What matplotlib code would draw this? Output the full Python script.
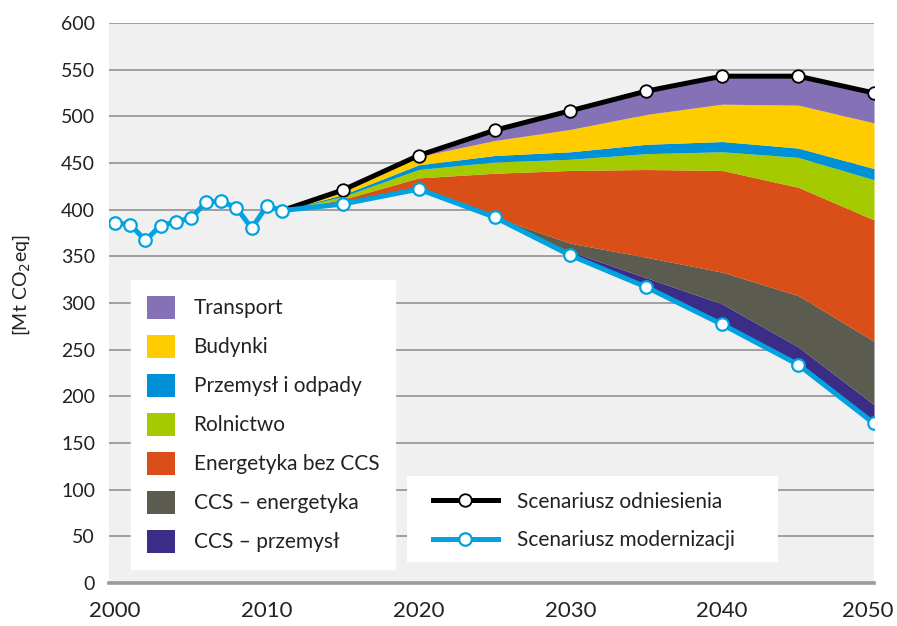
"""Emisje GHG - scenariusz odniesienia vs modernizacji"""

import matplotlib
matplotlib.use("Agg")
import matplotlib.pyplot as plt
import matplotlib.transforms as mtransforms
from matplotlib.patches import Patch, Rectangle
from matplotlib.lines import Line2D

plt.rcParams['font.family'] = ['Lato', 'DejaVu Sans']

# historia + scenariusz modernizacji
hist_years = [2000, 2001, 2002, 2003, 2004, 2005, 2006, 2007, 2008, 2009, 2010, 2011]
hist_vals = [386, 384, 367, 383, 387, 391, 408, 409, 402, 380, 404, 399]

years = [2011, 2015, 2020, 2025, 2030, 2035, 2040, 2045, 2050]
modern = [399, 406, 422, 392, 351, 317, 277, 234, 171]
reference = [399, 421, 458, 485, 506, 527, 543, 543, 525]

# sektory (ulozone od dolu)
ccs_przemysl = [0, 0, 0, 0, 4, 10, 22, 19, 20]
ccs_energetyka = [0, 0, 0, 0, 9, 22, 34, 55, 68]
energetyka = [0, 5, 12, 47, 78, 94, 109, 116, 130]
rolnictwo = [0, 3, 9, 12, 12, 17, 20, 32, 43]
przemysl = [0, 2, 5, 7, 8, 10, 11, 10, 12]
budynki = [0, 4, 9, 16, 24, 32, 40, 46, 49]
transport = [0, 1, 2, 11, 20, 25, 29, 31, 32]

sectors = [
    ("CCS – przemysł", ccs_przemysl, "#3b2d87"),
    ("CCS – energetyka", ccs_energetyka, "#5b5b4f"),
    ("Energetyka bez CCS", energetyka, "#d94f17"),
    ("Rolnictwo", rolnictwo, "#a6ca00"),
    ("Przemysł i odpady", przemysl, "#0090d6"),
    ("Budynki", budynki, "#ffcc00"),
    ("Transport", transport, "#8571b6"),
]

txt = "#222222"

fig = plt.figure(figsize=(8.97, 6.26), dpi=100)
ax = fig.add_axes([0.1215, 0.0687, 0.8529, 0.8946])
ax.set_facecolor("#f0f0f0")

# stacked areas on top of the modernisation line
bottom = list(modern)
for name, vals, col in sectors:
    top = [b + v for b, v in zip(bottom, vals)]
    ax.fill_between(years, bottom, top, color=col, lw=0, zorder=2)
    bottom = top

blue = "#00a3e0"
ax.plot(years, reference, color="black", lw=3.6, marker="o", ms=9,
        mfc="white", mec="black", mew=1.3, markevery=list(range(1, len(years))), zorder=4)
ax.plot(hist_years + years[1:], hist_vals + modern[1:], color=blue, lw=3.6,
        marker="o", ms=9, mfc="white", mec=blue, mew=1.6, zorder=5)

ax.set_xlim(1999.6, 2050)
ax.set_ylim(0, 600)
ax.set_xticks(range(2000, 2051, 10))
ax.set_yticks(range(0, 601, 50))
ax.yaxis.grid(True, color="#999999", lw=1.3, zorder=1)
ax.set_axisbelow(True)
for s in ["top", "right", "left"]:
    ax.spines[s].set_visible(False)
ax.spines["bottom"].set_color("#999999")
ax.spines["bottom"].set_linewidth(2.6)
ax.spines["bottom"].set_zorder(6)
ax.tick_params(axis="y", length=0, pad=10, labelsize=14, labelcolor=txt)
ax.tick_params(axis="x", length=0, pad=13, labelsize=16, labelcolor=txt)
# last year label pulled in a bit, like in the original
last = ax.get_xticklabels()[-1]
last.set_transform(last.get_transform() +
                   mtransforms.ScaledTranslation(-6 / 100, 0, fig.dpi_scale_trans))

fig.text(0.024, 0.545, "[Mt CO$_2$eq]", rotation=90, fontsize=14,
         ha="center", va="center", color=txt)

# legenda sektorow
handles = [Patch(facecolor=c, edgecolor="none", label=n) for n, v, c in sectors[::-1]]
leg1 = ax.legend(handles=handles, loc="upper left", bbox_to_anchor=(0.0288, 0.541),
                 borderaxespad=0, frameon=True, fancybox=False, framealpha=1,
                 edgecolor="white", facecolor="white",
                 handlelength=1.35, handleheight=1.35, labelspacing=0.75,
                 handletextpad=0.9, borderpad=0.75,
                 prop={"size": 15})
for t in leg1.get_texts():
    t.set_color(txt)
leg1.set_zorder(7)
ax.add_artist(leg1)

# legenda scenariuszy
ax.add_patch(Rectangle((0.3895, 0.0375), 0.485, 0.1536, transform=ax.transAxes,
                       facecolor="white", edgecolor="none", zorder=7))
line_handles = [
    Line2D([], [], color="black", lw=3.6, marker="o", ms=9, mfc="white", mec="black",
           mew=1.3, label="Scenariusz odniesienia"),
    Line2D([], [], color=blue, lw=3.6, marker="o", ms=9, mfc="white", mec=blue,
           mew=1.6, label="Scenariusz modernizacji"),
]
leg2 = ax.legend(handles=line_handles, loc="upper left", bbox_to_anchor=(0.4235, 0.163),
                 borderaxespad=0, frameon=False, handlelength=3.1, handletextpad=0.95,
                 labelspacing=0.9, borderpad=0, prop={"size": 15})
for t in leg2.get_texts():
    t.set_color(txt)
leg2.set_zorder(8)

fig.savefig("out.png", dpi=100)
